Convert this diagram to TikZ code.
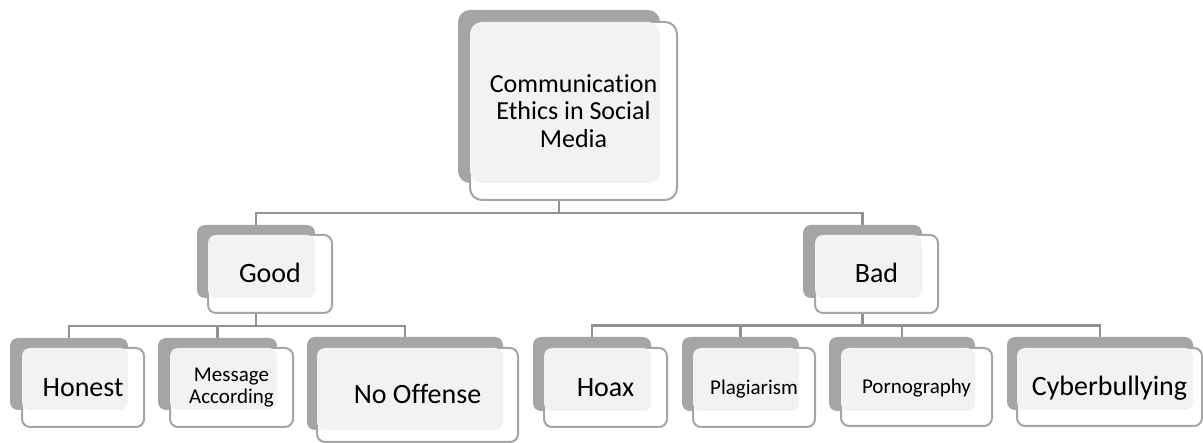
\documentclass[tikz,border=0pt]{standalone}
\usepackage{fontspec}
\setmainfont{Carlito}[Ligatures=NoCommon]
\usetikzlibrary{fit,backgrounds,calc}

\definecolor{stackgray}{HTML}{A5A5A5}
\definecolor{panelgray}{HTML}{F2F2F2}
\definecolor{linkgray}{HTML}{929292}

\tikzset{
  backcard/.style={fill=stackgray, draw=none, inner sep=0pt, rounded corners=#1},
  frontcard/.style={fill=white, draw=stackgray, line width=2pt, inner sep=0pt, rounded corners=#1},
  link/.style={draw=linkgray, line width=2.4pt},
  lab28/.style={font=\fontsize{28}{30}\selectfont, text height=18pt, text depth=0pt, inner sep=0pt},
  lab21/.style={font=\fontsize{21}{22}\selectfont, text height=13.5pt, text depth=0pt, inner sep=0pt},
  toplab/.style={font=\fontsize{26}{27.5}\selectfont, align=center, inner sep=0pt},
  twolab/.style={font=\fontsize{21}{22}\selectfont, align=center, inner sep=0pt},
}

% #1 name, #2 back top-left, #3 back bottom-right, #4 front top-left,
% #5 front bottom-right, #6 corner radius, #7 label style, #8 label
\newcommand\cardbox[8]{%
  \node[backcard=#6, fit={(#2) (#3)}] (#1-back) {};
  \node[frontcard=#6, fit={(#4) (#5)}] (#1-front) {};
  \fill[panelgray, rounded corners=#6] (#4) rectangle (#3);
  \node[#7] (#1) at (#1-front.center) {#8};
}

\begin{document}
\begin{tikzpicture}[x=1pt, y=-1pt]
\useasboundingbox (0,0) rectangle (1203,443);

\cardbox{top}{458,10}{660,183}{470,22}{677,200}{12pt}{toplab}{Communication\\Ethics in Social\\Media}

\cardbox{good}{197,225}{315,298}{208,235}{332,313}{8pt}{lab28}{Good}
\cardbox{bad}{803,225}{922,298}{815,235}{938,313}{8pt}{lab28}{Bad}

\cardbox{honest}{10,338}{128,410}{22,348}{144,427}{8pt}{lab28}{Honest}
\cardbox{msg}{158,338}{277,410}{170,348}{293,427}{8pt}{twolab}{Message\\According}
\cardbox{nooff}{307,337}{503,430}{317,348}{518,442}{8pt}{lab28}{No Offense}

\cardbox{hoax}{533,337}{651,411}{544,348}{667,427}{8pt}{lab28}{Hoax}
\cardbox{plag}{682,337}{799,411}{693,348}{815,427}{8pt}{lab21}{Plagiarism}
\cardbox{porn}{829,337}{975,411}{841,348}{992,426}{8pt}{lab21}{Pornography}
\cardbox{cyber}{1007,337}{1193,410}{1017,348}{1202,426}{8pt}{lab28}{Cyberbullying}

\begin{pgfonlayer}{background}
  % first level
  \coordinate (bus1) at ($(top-front.south)!0.5!(good-back.north)$);
  \draw[link] (top-back.center) -- (top-back.center |- bus1);
  \draw[link] (good-back.north) -- (good-back.north |- bus1)
              -- (bad-back.north |- bus1) -- (bad-back.north);
  % children of Good
  \coordinate (bus2) at ($(good-front.south)!0.5!(honest-back.north)$);
  \draw[link] (good-back.center) -- (good-back.center |- bus2);
  \draw[link] (honest-back.north) -- (honest-back.north |- bus2)
              -- (nooff-back.north |- bus2) -- (nooff-back.north);
  \draw[link] (msg-back.north) -- (msg-back.north |- bus2);
  % children of Bad
  \coordinate (bus3) at ($(bad-front.south)!0.5!(hoax-back.north)$);
  \draw[link] (bad-back.center) -- (bad-back.center |- bus3);
  \draw[link] (hoax-back.north) -- (hoax-back.north |- bus3)
              -- (cyber-back.north |- bus3) -- (cyber-back.north);
  \draw[link] (plag-back.north) -- (plag-back.north |- bus3);
  \draw[link] (porn-back.north) -- (porn-back.north |- bus3);
\end{pgfonlayer}
\end{tikzpicture}
\end{document}
